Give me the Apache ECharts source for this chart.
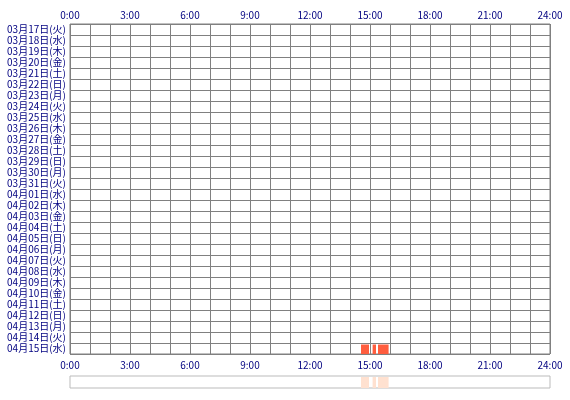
<!DOCTYPE html>
<html><head><meta charset="utf-8">
<script src="https://cdn.jsdelivr.net/npm/echarts@6/dist/echarts.min.js"></script>
<style>html,body{margin:0;padding:0;background:#fff}#c{width:570px;height:400px}</style>
</head><body><div id="c"></div>
<script>
var dayLabels = ['03月17日(火)','03月18日(水)','03月19日(木)','03月20日(金)','03月21日(土)','03月22日(日)','03月23日(月)','03月24日(火)','03月25日(水)','03月26日(木)','03月27日(金)','03月28日(土)','03月29日(日)','03月30日(月)','03月31日(火)','04月01日(水)','04月02日(木)','04月03日(金)','04月04日(土)','04月05日(日)','04月06日(月)','04月07日(火)','04月08日(水)','04月09日(木)','04月10日(金)','04月11日(土)','04月12日(日)','04月13日(月)','04月14日(火)','04月15日(水)'];
var eventDay = [29, 29, 29];
var eventStart = [14.55, 15.13, 15.4];
var eventEnd = [14.95, 15.3, 15.93];

var mainData = eventDay.map(function(d, i){ return [d, eventStart[i], eventEnd[i]]; });
var shadowData = eventDay.map(function(d, i){ return [0, eventStart[i], eventEnd[i]]; });

var font = '"Noto Sans CJK JP", sans-serif';
var labelColor = '#000080';

function renderBar(inset) {
  return function(params, api) {
    var s = api.coord([api.value(1), api.value(0)]);
    var e = api.coord([api.value(2), api.value(0)]);
    var h = api.size([0, 1])[1];
    return {
      type: 'rect',
      shape: { x: s[0], y: s[1] - h / 2 + inset, width: e[0] - s[0], height: h - inset },
      style: api.style()
    };
  };
}

var xLabel = {
  fontSize: 10, fontFamily: font, color: labelColor,
  formatter: function(v){ return v % 3 === 0 ? v + ':00' : ''; }
};

var option = {
  animation: false,
  grid: [
    { left: 70, top: 24, width: 480, height: 330, show: true, borderColor: '#808080', borderWidth: 1 },
    { left: 70, top: 376, width: 480, height: 12, show: true, borderColor: '#bbbbbb', borderWidth: 1 }
  ],
  xAxis: [
    { gridIndex: 0, type: 'value', min: 0, max: 24, interval: 1, position: 'top',
      axisLine: { show: false }, axisTick: { show: false },
      axisLabel: Object.assign({ margin: 4 }, xLabel),
      splitLine: { show: true, lineStyle: { color: '#808080', width: 1 } } },
    { gridIndex: 0, type: 'value', min: 0, max: 24, interval: 1, position: 'bottom',
      axisLine: { show: false }, axisTick: { show: false },
      axisLabel: Object.assign({ margin: 6 }, xLabel),
      splitLine: { show: false } },
    { gridIndex: 1, type: 'value', min: 0, max: 24, show: false }
  ],
  yAxis: [
    { gridIndex: 0, type: 'category', data: dayLabels, inverse: true,
      axisLine: { show: false }, axisTick: { show: false },
      axisLabel: { fontSize: 10, fontFamily: font, color: labelColor, margin: 4, interval: 0 },
      splitLine: { show: true, interval: 0, lineStyle: { color: '#808080', width: 1 } } },
    { gridIndex: 1, type: 'category', data: ['all'], show: false }
  ],
  series: [
    { type: 'custom', xAxisIndex: 0, yAxisIndex: 0, renderItem: renderBar(1.5),
      itemStyle: { color: '#ff5d3e' }, encode: { x: [1, 2], y: 0 }, data: mainData },
    { type: 'custom', xAxisIndex: 2, yAxisIndex: 1, renderItem: renderBar(1),
      itemStyle: { color: '#ffe1d0' }, encode: { x: [1, 2], y: 0 }, data: shadowData }
  ]
};
echarts.init(document.getElementById('c')).setOption(option);
</script></body></html>
